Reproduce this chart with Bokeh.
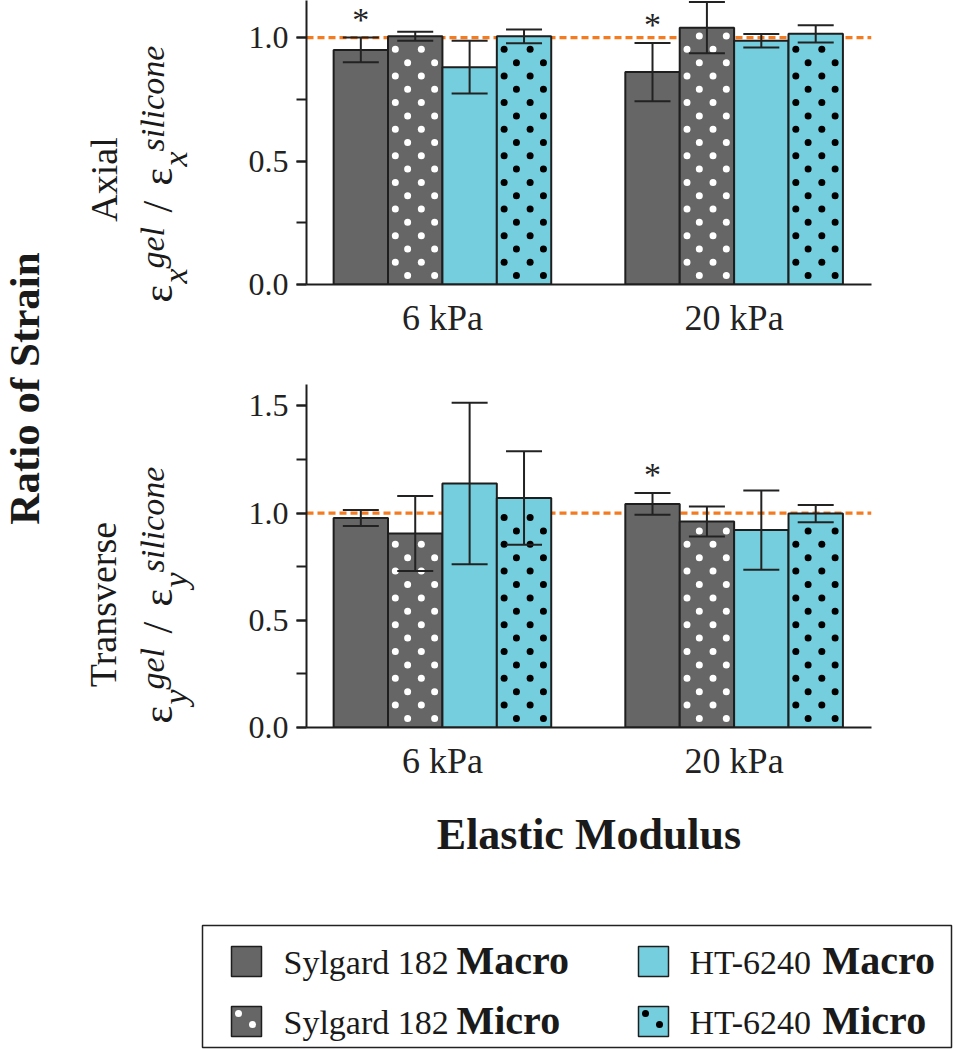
import math
from bokeh.plotting import figure
from bokeh.models import (Range1d, ColumnDataSource, Whisker, TeeHead, Span, Label,
                          SingleIntervalTicker, FixedTicker, PrintfTickFormatter)
from bokeh.layouts import row, column
from bokeh.core.properties import value, field
from bokeh.embed import file_html
from bokeh.resources import INLINE

# ---------------- data ----------------
groups = ["6 kPa", "20 kPa"]
materials = ["Sylgard 182", "Sylgard 182", "HT-6240", "HT-6240"]
scales = ["Macro", "Micro", "Macro", "Micro"]

axial_6kpa = [0.95, 1.005, 0.88, 1.005]
axial_20kpa = [0.86, 1.04, 0.987, 1.015]
axial_err_6kpa = [0.05, 0.018, 0.107, 0.028]
axial_err_20kpa = [0.118, 0.104, 0.027, 0.035]
axial_sig_6kpa = [True, False, False, False]
axial_sig_20kpa = [True, False, False, False]

transverse_6kpa = [0.977, 0.905, 1.138, 1.071]
transverse_20kpa = [1.043, 0.961, 0.921, 0.998]
transverse_err_6kpa = [0.037, 0.175, 0.377, 0.218]
transverse_err_20kpa = [0.051, 0.070, 0.185, 0.040]
transverse_sig_6kpa = [False, False, False, False]
transverse_sig_20kpa = [True, False, False, False]

reference_ratio = 1.0

# ---------------- style ----------------
FONT = "Liberation Serif"
GRAY = "#666666"
CYAN = "#74CEDD"
ORANGE = "#F47B20"
INK = "#1e1e1e"
fill_of = {"Sylgard 182": GRAY, "HT-6240": CYAN}
dot_of = {"Sylgard 182": "white", "HT-6240": "black"}
BASE_FIX = 0.38  # em shift to land the text baseline on its anchor

BAR_W = 0.1865
X0, X1 = -0.466, 1.471
STRIP_W = 205
FIG_W = 750
B_LEFT, B_RIGHT = 101, 84
FRAME_W = FIG_W - B_LEFT - B_RIGHT
X_PX = FRAME_W / (X1 - X0)

# dot texture geometry (pixels)
DOT_SIZE = 7
DOT_STEP = 13.4
DOT_FIRST = 9
DOT_COLS = [[19.6, 46.6], [7.3, 33.3]]


def bar_sources(means_by_group, errs_by_group, sig_by_group, y_px):
    d = dict(x=[], top=[], upper=[], lower=[], fill=[])
    dots = dict(x=[], y=[], c=[])
    sx, sy = [], []
    for gi, (means, errs, sigs) in enumerate(zip(means_by_group, errs_by_group, sig_by_group)):
        for si, (m, e, s) in enumerate(zip(means, errs, sigs)):
            x = gi + (si - 1.5) * BAR_W
            d["x"].append(x)
            d["top"].append(m)
            d["upper"].append(m + e)
            d["lower"].append(m - e)
            d["fill"].append(fill_of[materials[si]])
            if s:
                sx.append(x)
                sy.append(m + e)
            if scales[si] == "Micro":
                left_px = (x - BAR_W / 2) * X_PX
                top_px = m * y_px
                k = 0
                while DOT_FIRST + k * DOT_STEP <= top_px - 7:
                    for cx in DOT_COLS[k % 2]:
                        dots["x"].append((left_px + cx) / X_PX)
                        dots["y"].append((DOT_FIRST + k * DOT_STEP) / y_px)
                        dots["c"].append(dot_of[materials[si]])
                    k += 1
    return ColumnDataSource(d), ColumnDataSource(dots), ColumnDataSource(dict(x=sx, y=sy))


def make_panel(means, errs, sigs, y_end, height, b_top, b_bottom, xlabel=None):
    p = figure(width=FIG_W, height=height, x_range=Range1d(X0, X1), y_range=Range1d(0, y_end),
               output_backend="svg", toolbar_location=None,
               min_border_left=B_LEFT, min_border_right=B_RIGHT,
               min_border_top=b_top, min_border_bottom=b_bottom)
    p.xgrid.grid_line_color = None
    p.ygrid.grid_line_color = None
    p.outline_line_color = None
    y_px = (height - b_top - b_bottom) / y_end

    p.add_layout(Span(location=reference_ratio, dimension="width", line_color=ORANGE,
                      line_width=3.2, line_dash="7 4", level="underlay"))

    src, dots, sig = bar_sources(means, errs, sigs, y_px)
    p.vbar(x="x", top="top", bottom=0, width=BAR_W, source=src,
           fill_color=field("fill"), line_color=INK, line_width=2)
    p.scatter(x="x", y="y", source=dots, marker="circle", size=DOT_SIZE,
              fill_color=field("c"), line_color=None)

    head = dict(size=36, line_width=2, line_color="#222222")
    p.add_layout(Whisker(source=src, base="x", upper="upper", lower="lower",
                         line_width=2, line_color="#222222", level="overlay",
                         upper_head=TeeHead(**head), lower_head=TeeHead(**head)))

    p.text(x="x", y="y", text=value("*"), source=sig, text_font=value(FONT),
           text_font_size="34px", text_align="center", text_baseline="alphabetic",
           y_offset=-18, text_color="#222222")

    ya = p.yaxis[0]
    ya.ticker = SingleIntervalTicker(interval=0.5, num_minor_ticks=2)
    ya.formatter = PrintfTickFormatter(format="%.1f")
    ya.major_tick_out = 10
    ya.major_tick_in = 0
    ya.minor_tick_out = 10
    ya.minor_tick_in = 0
    ya.axis_line_width = 2
    ya.major_tick_line_width = 2
    ya.minor_tick_line_width = 2
    ya.axis_line_color = INK
    ya.major_tick_line_color = INK
    ya.minor_tick_line_color = INK
    ya.major_label_text_font = FONT
    ya.major_label_text_font_size = "32px"
    ya.major_label_text_color = "#222222"
    ya.major_label_standoff = 8

    xa = p.xaxis[0]
    xa.ticker = FixedTicker(ticks=list(range(len(groups))))
    xa.major_label_overrides = {i: g for i, g in enumerate(groups)}
    xa.major_tick_out = 0
    xa.major_tick_in = 0
    xa.minor_tick_line_color = None
    xa.axis_line_width = 2
    xa.axis_line_color = INK
    xa.major_label_text_font = FONT
    xa.major_label_text_font_size = "36px"
    xa.major_label_text_color = "#222222"
    xa.major_label_standoff = 13
    if xlabel:
        xa.axis_label = xlabel
        xa.axis_label_text_font = FONT
        xa.axis_label_text_font_size = "44px"
        xa.axis_label_text_font_style = "bold"
        xa.axis_label_text_color = "#1a1a1a"
        xa.axis_label_standoff = 26
    return p


top = make_panel([axial_6kpa, axial_20kpa], [axial_err_6kpa, axial_err_20kpa],
                 [axial_sig_6kpa, axial_sig_20kpa], 1.15, 340, 0, 54)
bottom = make_panel([transverse_6kpa, transverse_20kpa], [transverse_err_6kpa, transverse_err_20kpa],
                    [transverse_sig_6kpa, transverse_sig_20kpa], 1.6, 540, 44, 153,
                    xlabel="Elastic Modulus")

# ---------------- left strip with the y titles ----------------
STRIP_H = 880
strip = figure(width=STRIP_W, height=STRIP_H, x_range=Range1d(0, STRIP_W), y_range=Range1d(0, STRIP_H),
               output_backend="svg", toolbar_location=None, min_border=0,
               x_axis_location=None, y_axis_location=None)
strip.outline_line_color = None
strip.xgrid.grid_line_color = None
strip.ygrid.grid_line_color = None


def rot_label(text, page_x, page_y, size, style="normal", align="left"):
    strip.add_layout(Label(x=page_x - BASE_FIX * size, y=STRIP_H - page_y, text=text,
                           angle=math.pi / 2, text_font=FONT, text_font_size=f"{size}px",
                           text_font_style=style, text_align=align, text_baseline="alphabetic",
                           text_color="#1a1a1a"))


def strain_label(sub, start_y):
    pieces = [("\u03b5", 0, 173, 42, "normal"),
              (sub, -19, 188, 34, "italic"),
              ("gel", -34, 165, 34, "italic"),
              ("/", -90, 173, 42, "normal"),
              ("\u03b5", -117, 173, 42, "normal"),
              (sub, -136, 188, 34, "italic"),
              ("silicone", -151, 165, 34, "italic")]
    for text, off, bx, size, style in pieces:
        rot_label(text, bx, start_y + off, size, style)


rot_label("Ratio of Strain", 40, 388, 43, "bold", "center")
rot_label("Axial", 118, 179, 38, align="center")
strain_label("x", 302)
rot_label("Transverse", 117, 604, 38, align="center")
strain_label("y", 723)

# ---------------- legend box ----------------
LEG_W, LEG_H = 749, 122
leg = figure(width=STRIP_W + FIG_W, height=169, x_range=Range1d(0, LEG_W), y_range=Range1d(LEG_H, 0),
             output_backend="svg", toolbar_location=None,
             min_border_left=202, min_border_right=4, min_border_top=45, min_border_bottom=2,
             x_axis_location=None, y_axis_location=None)
leg.xgrid.grid_line_color = None
leg.ygrid.grid_line_color = None
leg.outline_line_color = "#222222"
leg.outline_line_width = 1.5

col_of = {"Sylgard 182": 0, "HT-6240": 1}
row_of = {"Macro": 0, "Micro": 1}
SW_X = [44, 451]
SW_Y = [36, 96]
TXT_X = [81, 487]
BOLD_X = [254, 620]
REG_SIZE, BOLD_SIZE = 34, 40
lsrc = ColumnDataSource(dict(
    sx=[SW_X[col_of[m]] for m in materials],
    sy=[SW_Y[row_of[s]] for s in scales],
    tx=[TXT_X[col_of[m]] for m in materials],
    bx=[BOLD_X[col_of[m]] for m in materials],
    ty=[SW_Y[row_of[s]] + 14 - BASE_FIX * REG_SIZE for s in scales],
    by=[SW_Y[row_of[s]] + 14 - BASE_FIX * BOLD_SIZE for s in scales],
    mat=materials, sc=scales,
    fill=[fill_of[m] for m in materials],
))
leg.rect(x="sx", y="sy", width=30, height=30, source=lsrc, fill_color=field("fill"),
         line_color=INK, line_width=1.5)
ldots = dict(x=[], y=[], c=[])
for m, s in zip(materials, scales):
    if s == "Micro":
        for dx, dy in [(-8, -8), (6, 3)]:
            ldots["x"].append(SW_X[col_of[m]] + dx)
            ldots["y"].append(SW_Y[row_of[s]] + dy)
            ldots["c"].append(dot_of[m])
leg.scatter(x="x", y="y", source=ColumnDataSource(ldots), marker="circle", size=DOT_SIZE,
            fill_color=field("c"), line_color=None)
leg.text(x="tx", y="ty", text="mat", source=lsrc, text_font=value(FONT), text_font_size=f"{REG_SIZE}px",
         text_baseline="alphabetic", text_align="left", text_color="#1a1a1a")
leg.text(x="bx", y="by", text="sc", source=lsrc, text_font=value(FONT), text_font_size=f"{BOLD_SIZE}px",
         text_font_style="bold", text_baseline="alphabetic", text_align="left", text_color="#1a1a1a")

layout = column(row(strip, column(top, bottom)), leg)
open("out.html", "w").write(file_html(layout, INLINE))
